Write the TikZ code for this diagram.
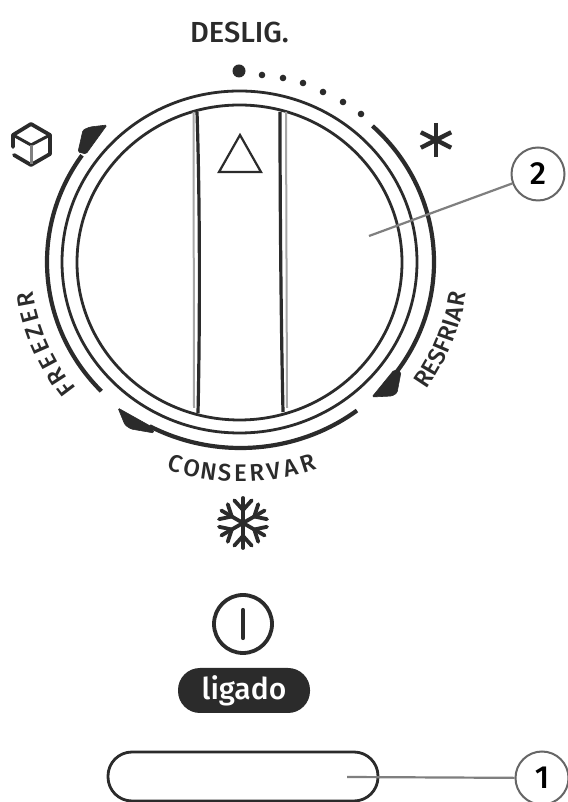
\documentclass[tikz,border=0pt]{standalone}
\usepackage{fontspec}
\setmainfont{Fira Sans}
\newfontfamily\lab{Fira Sans Medium}
\usetikzlibrary{calc}
\definecolor{ink}{HTML}{2B2B2B}
\definecolor{lead}{HTML}{7F7F7F}
\tikzset{
  x=1pt,y=1pt,
  ring/.style={draw=ink,line width=2.8pt},
  band/.style={draw=ink,line width=4.2pt},
  tip/.style={fill=ink,draw=ink,line width=.6pt,rounded corners=1.5pt},
  leadline/.style={draw=lead,line width=2.2pt},
  callout/.style={circle,draw=lead!80!black,line width=2pt,minimum size=53pt,inner sep=0pt,font=\lab\fontsize{32}{34}\selectfont,text=black},
  icon/.style={draw=ink,line width=3.8pt,line cap=round,line join=round},
  letter/.style={anchor=base,inner sep=0pt,text=ink,font=\lab\fontsize{24}{26}\selectfont},
  grayrib/.style={draw=gray!70,line width=2pt},
  darkrib/.style={draw=ink,line width=3.2pt}
}
\begin{document}
\begin{tikzpicture}
\useasboundingbox (0,0) rectangle (567,802);
\fill[white] (0,0) rectangle (567,802);
\coordinate (C) at (239.5,540);
\coordinate (B) at (240.5,540);
% rings
\draw[ring] (C) ellipse [x radius=177.5,y radius=171];
\draw[ring] (239.5,539.5) ellipse [x radius=162.5,y radius=157.5];
% ribs
\draw[grayrib] (193.5,690) -- (194,394);
\draw[darkrib] (197,690) .. controls (200,600) and (200,480) .. (198,389);
\draw[darkrib] (280,690) .. controls (280,600) and (281,480) .. (283,390);
\draw[grayrib] (286,690) -- (287,394);
% triangle
\draw[draw=ink,line width=2.2pt,line join=miter] (240,667) -- (261,630) -- (219,630) -- cycle;
% outer bands
\draw[band] (B) ++(145:193.5 and 186) arc[start angle=145,end angle=224,x radius=193.5,y radius=186];
\draw[band] (B) ++(242:193.5 and 186) arc[start angle=242,end angle=307,x radius=193.5,y radius=186];
\draw[band] (B) ++(47:193.5 and 186) arc[start angle=47,end angle=-36,x radius=193.5,y radius=186];
% wedges
\fill[tip] (107,677) -- (90,675) -- (83,672) -- (78,650) -- (86,648) -- cycle;
\fill[tip] (118,394) -- (125,377) -- (131,373) -- (154,369) -- (152,375) -- cycle;
\fill[tip] (372,405) -- (392,406) -- (397,409) -- (401,430) -- (394,432) -- cycle;
% dots
\fill[ink] (239,731) circle (6.5);
\foreach \px/\py in {262/75,283/78,303/83,323/92,343/102,361/114}
  \fill[ink] (\px,802-\py) circle (3.3);
% labels
\node[text=ink,font=\lab\fontsize{29}{32}\selectfont,anchor=center] (off) at (239.5,770) {DESLIG.};
\foreach \c/\a [count=\i] in {F/217,R/212.8,E/208.2,E/203.8,Z/199.4,E/195,R/190.4}
  \node[letter,rotate=\a-90] (fz\i) at ($(B)+(\a:210 and 203)$) {\c};
\foreach \c/\a [count=\i] in {C/252.5,O/257,N/261.5,S/265.8,E/270,R/274.3,V/278.8,A/283.3,R/288}
  \node[letter,rotate=\a+90] (cs\i) at ($(B)+(\a:225 and 220)$) {\c};
\foreach \c/\a [count=\i] in {R/-33.5,E/-30,S/-26.6,F/-23.3,R/-19.7,I/-16.9,A/-14,R/-10.1}
  \node[letter,rotate=\a+90] (rf\i) at ($(B)+(\a:228 and 220)$) {\c};
% cube
\draw[icon] (13,655) -- (13,667) -- (31,678) -- (50,667) -- (50,648) -- (31,637) -- (14,647);
\draw[icon,line width=3pt] (13,667) -- (31,657) -- (50,667);
\draw[draw=gray,line width=3pt] (31,657) -- (31,638);
% asterisk
\foreach \a in {90,27,153}
  \draw[icon,line cap=butt,line width=4.4pt] (436,662) ++(\a:17) -- ++(\a+180:34);
% snowflake
\begin{scope}[shift={(243,279)}]
\foreach \a in {90,30,-30,-90,-150,150}{
  \draw[icon] (0,0) -- (\a:25);
  \draw[icon] (\a:13) -- ++(\a+42:13);
  \draw[icon] (\a:13) -- ++(\a-42:13);
}
\end{scope}
% power
\node[circle,draw=ink,line width=3.8pt,minimum size=58pt,inner sep=0pt] (pw) at (243,178) {};
\draw[icon,line width=4.2pt] (243,192) -- (243,164);
\node[rounded corners=22pt,fill=ink,minimum width=132pt,minimum height=45pt,inner sep=0pt,text=white,font=\lab\fontsize{30}{34}\selectfont] (on) at (244,111.5) {ligado};
% switch
\node[draw=ink,line width=2.8pt,rounded corners=24pt,minimum width=270pt,minimum height=49pt,inner sep=0pt] (sw) at (243,25.5) {};
% callouts
\node[callout] (n2) at (538,628) {2};
\node[callout] (n1) at (542,24) {1};
\coordinate (e2) at (369,566);
\coordinate (e1) at (347,25);
\draw[leadline] (e2) -- (n2);
\draw[leadline] (e1) -- (n1);
\end{tikzpicture}
\end{document}
